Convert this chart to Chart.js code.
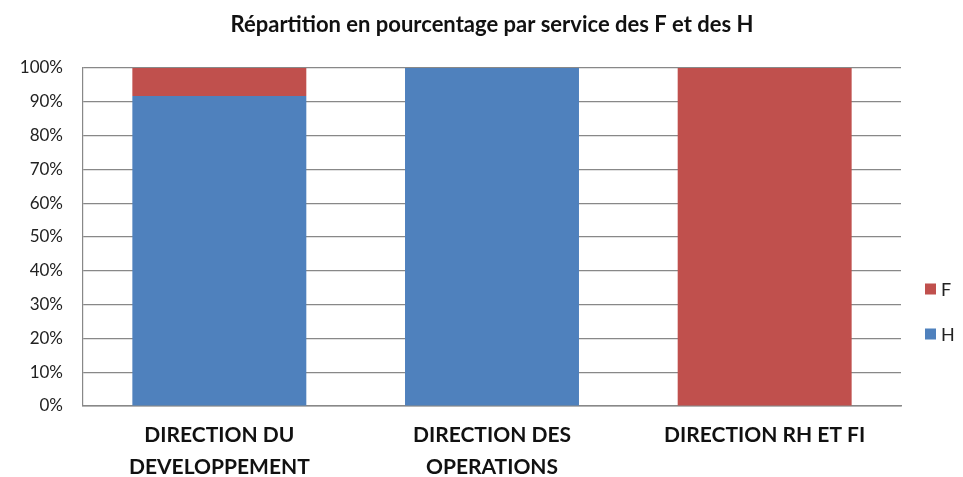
<!DOCTYPE html>
<html>
<head>
<meta charset="utf-8">
<script src="https://cdn.jsdelivr.net/npm/chart.js@4/dist/chart.umd.min.js"></script>
<style>
  html, body { margin: 0; padding: 0; background: #fff; }
  #wrap { width: 963px; height: 477px; }
</style>
</head>
<body>
<div id="wrap"><canvas id="c" width="963" height="477"></canvas></div>
<script>
// Services (two-line category labels)
const categories = [
  ['DIRECTION DU', 'DEVELOPPEMENT'],
  ['DIRECTION DES', 'OPERATIONS'],
  ['DIRECTION RH ET FI']
];
// Share of men (H) and women (F) per service, in %
const valuesH = [91.7, 100, 0];
const valuesF = [8.3, 0, 100];
const yTicks = [0, 10, 20, 30, 40, 50, 60, 70, 80, 90, 100];

const BLUE = '#4f81bd';
const RED = '#c0504d';
const FONT = "Lato, 'Open Sans', sans-serif";

// Legend drawn on the right, F above H, with small square keys
const sideLegend = {
  id: 'sideLegend',
  afterDraw(chart) {
    const ctx = chart.ctx;
    const items = chart.data.datasets.slice().reverse();
    ctx.save();
    ctx.font = '18px ' + FONT;
    ctx.textBaseline = 'middle';
    items.forEach((ds, i) => {
      const y = 289 + i * 45;
      ctx.fillStyle = ds.backgroundColor;
      ctx.fillRect(925, y - 5.5, 11, 11);
      ctx.fillStyle = '#222';
      ctx.fillText(ds.label, 941, y + 1);
    });
    ctx.restore();
  }
};

new Chart(document.getElementById('c'), {
  type: 'bar',
  data: {
    labels: categories,
    datasets: [
      { label: 'H', data: valuesH, backgroundColor: BLUE },
      { label: 'F', data: valuesF, backgroundColor: RED }
    ]
  },
  options: {
    responsive: false,
    animation: false,
    devicePixelRatio: 1,
    layout: { padding: { left: 0, right: 62, top: 0, bottom: 0 } },
    datasets: { bar: { categoryPercentage: 1, barPercentage: 0.638 } },
    plugins: {
      legend: { display: false },
      tooltip: { enabled: false },
      title: {
        display: true,
        fullSize: false,
        text: 'Répartition en pourcentage par service des F et des H',
        color: '#111',
        font: { family: FONT, size: 22, weight: 'bold', lineHeight: 1.2 },
        padding: { top: 12, bottom: 29.6 }
      }
    },
    scales: {
      x: {
        stacked: true,
        grid: { display: false, drawTicks: false },
        border: { display: true, color: '#888', width: 1.5 },
        ticks: {
          color: '#111',
          padding: 13,
          maxRotation: 0,
          autoSkip: false,
          font: { family: FONT, size: 21, weight: 'bold', lineHeight: 1.52 }
        },
        afterFit(scale) { scale.height = 71; }
      },
      y: {
        stacked: true,
        min: 0,
        max: 100,
        afterBuildTicks(scale) { scale.ticks = yTicks.map(v => ({ value: v })); },
        grid: { color: '#888', lineWidth: 1.2, drawTicks: false },
        border: { display: true, color: '#888', width: 1.2 },
        ticks: {
          color: '#222',
          padding: 20,
          font: { family: FONT, size: 17 },
          callback: v => v + '%'
        },
        afterFit(scale) { scale.width = 83; }
      }
    }
  },
  plugins: [sideLegend]
});
</script>
</body>
</html>
